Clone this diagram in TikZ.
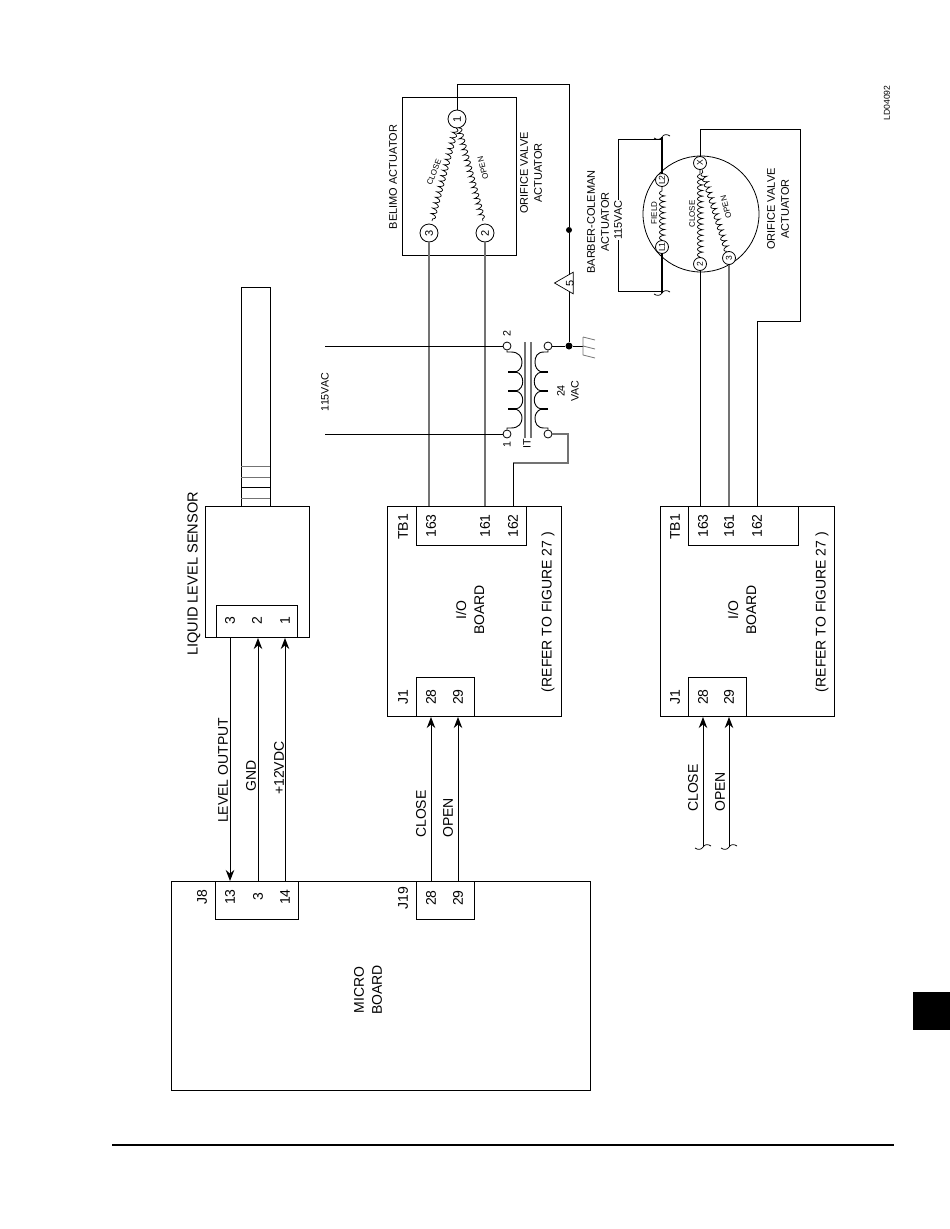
\documentclass[tikz,border=0pt]{standalone}
\usepackage{fontspec}
\setmainfont{Liberation Sans}
\usetikzlibrary{positioning,decorations.pathmorphing,arrows.meta,shapes.geometric}
\tikzset{
  box/.style={draw,line width=1pt,inner sep=0pt,anchor=north west},
  txt/.style={rotate=90,align=center,inner sep=0pt,font=\fontsize{14}{18}\selectfont},
  txtb/.style={txt,anchor=west},
  senslbl/.style={txt,font=\fontsize{14.6}{18}\selectfont},
  mid/.style={rotate=90,align=center,inner sep=0pt,font=\fontsize{11}{14}\selectfont},
  tiny/.style={inner sep=0pt,font=\fontsize{8}{9}\selectfont},
  term/.style={draw,circle,line width=0.8pt,minimum size=18pt,inner sep=0pt,rotate=90,fill=white,font=\fontsize{11}{12}\selectfont},
  smallterm/.style={term,minimum size=13pt,font=\fontsize{8.5}{9}\selectfont},
  post/.style={draw,circle,line width=0.8pt,minimum size=8pt,inner sep=0pt,fill=white},
  wire/.style={line width=1pt},
  graywire/.style={line width=1.2pt,black!55},
  sig/.style={line width=1pt,-{Stealth[length=11pt,width=8.5pt]}},
  winding/.style={line width=0.7pt,decorate,decoration={coil,aspect=0.3,segment length=5.6pt,amplitude=2.6pt}},
  hump/.style={line width=0.9pt},
  pics/squiggle/.style={code={\draw[line width=0.7pt] (-8,1) .. controls (-5,3) and (-2,3) .. (0,0) .. controls (2,-3) and (5,-3) .. (8,-1);}}
}
\begin{document}
\begin{tikzpicture}[x=1pt,y=-1pt]
  \useasboundingbox (0,0) rectangle (950,1229);

  \node[box,minimum width=419pt,minimum height=209pt] (micro) at (171,881) {};
  \node[box,minimum width=83pt,minimum height=38pt] (j8) at (215,881) {};
  \node[box,minimum width=58pt,minimum height=38pt] (j19) at (416,881) {};
  \node[txt] (microlbl) at (368,990) {MICRO\\BOARD};
  \node[txt] (j8lbl) at (202,897) {J8};
  \node[txt] (m13) at (230,897) {13};
  \node[txt] (m3) at (258,897) {3};
  \node[txt] (m14) at (285,897) {14};
  \node[txt] (j19lbl) at (403,898) {J19};
  \node[txt] (m28) at (431,898) {28};
  \node[txt] (m29) at (458,898) {29};

  \node[box,minimum width=29pt,minimum height=219pt] (probe) at (241,287) {};
  \draw[graywire,line width=0.8pt] (241,466) -- (270,466) (241,477) -- (270,477) (241,498) -- (270,498);
  \draw[line width=0.8pt] (241,487) -- (270,487);
  \node[box,minimum width=104pt,minimum height=131pt] (sensor) at (205,506) {};
  \node[box,minimum width=81pt,minimum height=32pt] (sensorj) at (216,605) {};
  \node[senslbl] (sensorlbl) at (194,574) {LIQUID LEVEL SENSOR};
  \node[txt] (s3) at (230,621) {3};
  \node[txt] (s2) at (257,621) {2};
  \node[txt] (s1) at (285,621) {1};
  \draw[sig] (m13 |- sensor.south) -- (m13 |- micro.north);
  \draw[sig] (m3 |- micro.north) -- (m3 |- sensor.south);
  \draw[sig] (m14 |- micro.north) -- (m14 |- sensor.south);
  \node[txtb] (levellbl) at (223,823) {LEVEL OUTPUT};
  \node[txtb] (gndlbl) at (251,792) {GND};
  \node[txtb] (vdclbl) at (279,795) {+12VDC};

  \node[box,minimum width=174pt,minimum height=210pt] (ioa) at (387,506) {};
  \node[box,minimum width=110pt,minimum height=39pt] (tba) at (416,506) {};
  \node[box,minimum width=58pt,minimum height=39pt] (ja) at (416,677) {};
  \node[txt] (tbalbl) at (403,527) {TB1};
  \node[txt] (a163) at (431,526) {163};
  \node[txt] (a161) at (485,526) {161};
  \node[txt] (a162) at (513,526) {162};
  \node[txt] (jalbl) at (403,697) {J1};
  \node[txt] (a28) at (431,697) {28};
  \node[txt] (a29) at (458,697) {29};
  \node[txt] (ioalbl) at (470,610) {I/O\\BOARD};
  \node[txt] (refa) at (548,612) {(REFER TO FIGURE 27 )};
  \draw[sig] (m28 |- micro.north) -- (a28 |- ioa.south);
  \draw[sig] (m29 |- micro.north) -- (a29 |- ioa.south);
  \node[txtb] (closea) at (421,838) {CLOSE};
  \node[txtb] (opena) at (448,838) {OPEN};

  \node[box,minimum width=174pt,minimum height=210pt] (iob) at (660,506) {};
  \node[box,minimum width=110pt,minimum height=39pt] (tbb) at (688,506) {};
  \node[box,minimum width=58pt,minimum height=39pt] (jb) at (688,677) {};
  \node[txt] (tbblbl) at (675,527) {TB1};
  \node[txt] (b163) at (703,526) {163};
  \node[txt] (b161) at (729,526) {161};
  \node[txt] (b162) at (757,526) {162};
  \node[txt] (jblbl) at (675,697) {J1};
  \node[txt] (b28) at (703,697) {28};
  \node[txt] (b29) at (729,697) {29};
  \node[txt] (ioblbl) at (742,610) {I/O\\BOARD};
  \node[txt] (refb) at (822,612) {(REFER TO FIGURE 27 )};
  \coordinate (closeend) at (703,847);
  \coordinate (openend) at (729,847);
  \draw[sig] (closeend) -- (b28 |- iob.south);
  \draw[sig] (openend) -- (b29 |- iob.south);
  \pic at (closeend) {squiggle};
  \pic at (openend) {squiggle};
  \node[txtb] (closeb) at (693,812) {CLOSE};
  \node[txtb] (openb) at (720,812) {OPEN};

  \node[box,minimum width=114pt,minimum height=158pt] (belimo) at (402,97) {};
  \node[term] (t1) at (457,119) {1};
  \node[term] (t3) at (429,233) {3};
  \node[term] (t2) at (485,233) {2};
  \draw[winding] (456,128) -- (432,221);
  \draw[winding] (459,128) -- (483,221);
  \node[tiny,rotate=69] (closelbl) at (434,172) {CLOSE};
  \node[tiny,rotate=105] (openlbl) at (483,168) {OPEN};
  \node[mid] (belimolbl) at (393,177) {BELIMO ACTUATOR};
  \node[mid] (orificea) at (531,173) {ORIFICE VALVE\\ACTUATOR};
  \draw[graywire] (t3) -- (t3 |- ioa.north);
  \draw[graywire] (t2) -- (t2 |- ioa.north);

  \node[post] (p2) at (507,346) {};
  \node[post] (p1) at (507,434) {};
  \node[post] (q2) at (548,346) {};
  \node[post] (q1) at (548,434) {};
  \coordinate (linetop) at (325,346);
  \coordinate (linebot) at (325,434);
  \draw[wire] (linetop) -- (p2);
  \draw[wire] (linebot) -- (p1);
  \draw[hump] (p2) -- (507,352) -- (511,352) .. controls (519,352) and (522,357) .. (522,362) .. controls (522,367) and (520,370) .. (516,372) .. controls (525,374) and (525,389) .. (516,391) .. controls (525,393) and (525,407) .. (516,409) .. controls (520,411) and (522,414) .. (522,418) .. controls (522,423) and (519,428) .. (511,428) -- (507,428) -- (p1);
  \draw[hump] (q2) -- (548,352) -- (544,352) .. controls (537,352) and (535,357) .. (535,362) .. controls (535,367) and (537,370) .. (541,372) .. controls (532,374) and (532,389) .. (541,391) .. controls (532,393) and (532,407) .. (541,409) .. controls (537,411) and (535,414) .. (535,418) .. controls (535,423) and (537,428) .. (544,428) -- (548,428) -- (q1);
  \draw[line width=1.2pt] (508,372) -- (517,372) (508,391) -- (517,391) (508,409) -- (517,409);
  \draw[line width=1.2pt] (548,372) -- (540,372) (548,391) -- (540,391) (548,409) -- (540,409);
  \draw[graywire,line width=1.3pt] (525,342) -- (525,438) (531,342) -- (531,438);
  \node[mid,font=\fontsize{10.7}{12}\selectfont] (vaclbl) at (325,392) {115VAC};
  \node[mid,font=\fontsize{10.7}{14}\selectfont] (seclbl) at (568,391) {24\\VAC};
  \node[mid,font=\fontsize{10.7}{12}\selectfont] (p2lbl) at (507,334) {2};
  \node[mid,font=\fontsize{10.7}{12}\selectfont] (p1lbl) at (507,445) {1};
  \node[mid,font=\fontsize{10.7}{12}\selectfont] (itlbl) at (527,444) {IT};

  \node[circle,fill=black,inner sep=0pt,minimum size=7pt] (junc) at (569,346) {};
  \node[circle,fill=black,inner sep=0pt,minimum size=6pt] (junctop) at (569,230) {};
  \coordinate (gnd) at (583,346);
  \coordinate (topcorner) at (457,84);
  \draw[wire] (t1) -- (topcorner) -- (569,84) -- (junctop) -- (junc);
  \draw[wire] (q2) -- (junc) -- (gnd);
  \draw[graywire,line width=0.8pt] (583,337) -- (583,355) (583,337) -- (595,340) (gnd) -- (595,349) (583,355) -- (595,358);
  \draw[graywire] (q1) -- (568,434) -- (568,463) -- (a162 |- 0,463);
  \draw[wire] (a162 |- 0,463) -- (a162 |- ioa.north);
  \node[draw,line width=0.7pt,fill=white,regular polygon,regular polygon sides=3,shape border rotate=90,minimum size=25pt,inner sep=0pt] (tria) at (567,283) {};
  \node[mid] (trilbl) at (570,283) {5};
  \node[mid] (barberlbl) at (598,222) {BARBER-COLEMAN\\ACTUATOR};

  \node[draw,circle,line width=0.8pt,minimum size=116pt,inner sep=0pt] (motor) at (701,214) {};
  \node[smallterm] (tx) at (700,163) {X};
  \node[smallterm] (tl2) at (662,180) {L2};
  \node[smallterm] (tl1) at (662,247) {L1};
  \node[smallterm] (tb2) at (700,264) {2};
  \node[smallterm] (tb3) at (729,258) {3};
  \draw[winding] (tl1) -- (tl2);
  \draw[winding] (tb2) -- (tx);
  \draw[winding] (tb3) -- (tx);
  \node[tiny,rotate=90] (fieldlbl) at (654,213) {FIELD};
  \node[tiny,rotate=90] (closec) at (692,214) {CLOSE};
  \node[tiny,rotate=105] (openc) at (726,207) {OPEN};
  \node[mid] (orificeb) at (778,209) {ORIFICE VALVE\\ACTUATOR};
  \draw[wire] (tb2) -- (tb2 |- iob.north);
  \draw[graywire] (tb3) -- (tb3 |- iob.north);
  \draw[wire] (tx) -- (700,129) -- (800,129) -- (800,321) -- (b162 |- 0,321) -- (b162 |- iob.north);

  \coordinate (fieldtop) at (662,137);
  \coordinate (fieldbot) at (662,293);
  \draw[line width=1.2pt] (tl2) -- (fieldtop);
  \draw[line width=1.2pt] (tl1) -- (fieldbot);
  \pic at (fieldtop) {squiggle};
  \pic at (fieldbot) {squiggle};
  \node[mid] (acbc) at (618,220) {115VAC};
  \draw[wire] (acbc.east) -- (618,139) -- (662,139);
  \draw[wire] (acbc.west) -- (618,291) -- (662,291);

  \node[mid,font=\fontsize{8.6}{10}\selectfont] (ldlbl) at (887,103) {LD04092};
  \node[fill=black,minimum width=37pt,minimum height=38pt,inner sep=0pt,anchor=north west] (tab) at (913,992) {};
  \coordinate (ruleleft) at (112,1145);
  \coordinate (ruleright) at (894,1145);
  \draw[line width=1.8pt] (ruleleft) -- (ruleright);
\end{tikzpicture}
\end{document}
